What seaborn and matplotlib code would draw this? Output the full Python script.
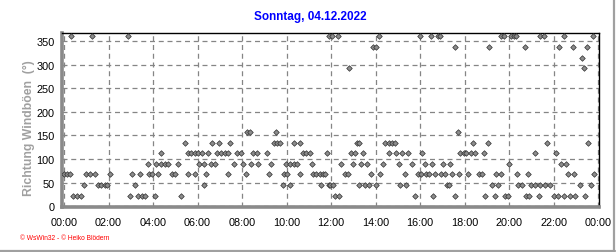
import matplotlib
matplotlib.use("Agg")
import matplotlib.pyplot as plt
import seaborn as sns
import pandas as pd
from matplotlib.ticker import MultipleLocator, FuncFormatter
from matplotlib.lines import Line2D

# ---- data (time in minutes after midnight, direction in degrees) ----
t_360 = [19, 76, 171, 715, 722, 738, 848, 960, 990, 1007, 1014,
         1178, 1187, 1205, 1212, 1219, 1284, 1295, 1349, 1426]
t_337 = [832, 840, 1053, 1147, 1242, 1335, 1372, 1411]
t_315 = [1396]
t_292 = [767, 1401]
t_157 = [493, 502, 572, 1062]
t_135 = [325, 400, 419, 447, 566, 574, 581, 619, 636, 789, 796, 866, 875,
         884, 893, 1102, 1142, 1302, 1414]
t_112 = [260, 333, 342, 352, 362, 372, 389, 412, 422, 433, 442, 466, 477,
         509, 520, 548, 644, 653, 662, 708, 774, 785, 807, 876, 895, 912,
         927, 965, 1068, 1077, 1084, 1097, 1108, 1131, 1270, 1326]
t_90 = [225, 248, 262, 272, 281, 306, 364, 376, 396, 407, 459, 482, 504,
        524, 558, 599, 610, 620, 629, 668, 747, 778, 801, 818, 861, 902,
        939, 972, 992, 1023, 1041, 1201, 1340, 1354]
t_67 = [1, 9, 17, 59, 69, 84, 125, 184, 206, 230, 238, 254, 290, 299, 335,
        353, 383, 443, 490, 553, 594, 602, 636, 671, 680, 690, 699, 704,
        758, 765, 828, 852, 918, 954, 963, 975, 984, 1001, 1017, 1026,
        1047, 1065, 1090, 1120, 1126, 1165, 1178, 1221, 1252, 1360, 1375,
        1429]
t_45 = [53, 91, 100, 109, 116, 191, 378, 589, 608, 693, 713, 716, 725, 794,
        812, 823, 841, 906, 922, 1032, 1038, 1153, 1171, 1225, 1234, 1259,
        1270, 1284, 1297, 1309, 1390, 1420]
t_22 = [23, 34, 45, 178, 200, 211, 218, 244, 316, 731, 742, 947, 996, 1055,
        1135, 1161, 1190, 1197, 1246, 1254, 1281, 1320, 1333, 1348, 1365,
        1378, 1405]

levels = {360: t_360, 337.5: t_337, 315: t_315, 292.5: t_292, 157.5: t_157,
          135: t_135, 112.5: t_112, 90: t_90, 67.5: t_67, 45: t_45, 22.5: t_22}

rows = [(t, v) for v, ts in levels.items() for t in ts]
df = pd.DataFrame(rows, columns=["minute", "direction"]).sort_values("minute")

title = "Sonntag, 04.12.2022"
ylabel = "Richtung Windböen  (°)"
credit = "© WsWin32 - © Heiko Blödern"

# ---- figure ----
sns.set_style("white")
plt.rcParams["font.family"] = ["Liberation Sans", "DejaVu Sans"]

fig = plt.figure(figsize=(6.16, 2.53), dpi=100)
ax = fig.add_axes([61.5 / 616, 1 - 208 / 253, (598.5 - 61.5) / 616, (208 - 34) / 253])

sns.scatterplot(data=df, x="minute", y="direction", ax=ax, marker="D", s=8,
                color="#8c8c8c", edgecolor="#303030", linewidth=0.5, legend=False,
                zorder=3)

ax.set_xlim(-7, 1441)
ax.set_ylim(-1.5, 367)

ax.xaxis.set_major_locator(MultipleLocator(120))
ax.xaxis.set_minor_locator(MultipleLocator(30))
ax.xaxis.set_major_formatter(FuncFormatter(lambda v, p: f"{int(round(v / 60)) % 24:02d}:00"))
ax.yaxis.set_major_locator(MultipleLocator(50))
ax.yaxis.set_minor_locator(MultipleLocator(10))

ax.grid(True, which="major", color="#858585", linestyle=(0, (4, 3)), linewidth=0.9)
ax.tick_params(axis="both", which="major", direction="out", length=3, width=0.8,
               color="#606060", labelsize=7.8, pad=2, labelcolor="black")
ax.tick_params(axis="both", which="minor", direction="out", length=2, width=0.7,
               color="#606060")
ax.tick_params(axis="x", which="major", pad=4)

for side in ["left", "bottom"]:
    ax.spines[side].set_color("#8a8a8a")
    ax.spines[side].set_linewidth(2.6)
for side in ["top", "right"]:
    ax.spines[side].set_color("black")
    ax.spines[side].set_linewidth(1.0)

ax.set_xlabel("")
ax.set_ylabel(ylabel, color="#a0a0a0", fontsize=8.8, fontweight="bold")
ax.yaxis.set_label_coords(-0.05, 0.46)

fig.text(310 / 616, 1 - 17 / 253, title, color="#0000ff", fontsize=8.5,
         fontweight="bold", ha="center", va="center")
fig.text(20 / 616, 1 - 239 / 253, credit, color="#ff0000", fontsize=4.8,
         ha="left", va="center")

# frame shadow on right and bottom
fig.add_artist(Line2D([614 / 616, 614 / 616], [1 - 251.5 / 253, 1], transform=fig.transFigure,
                      color="#a0a0a0", linewidth=1.6))
fig.add_artist(Line2D([0, 614.5 / 616], [1 - 251.5 / 253, 1 - 251.5 / 253],
                      transform=fig.transFigure, color="#a0a0a0", linewidth=1.6))

fig.savefig("out.png", dpi=100)
